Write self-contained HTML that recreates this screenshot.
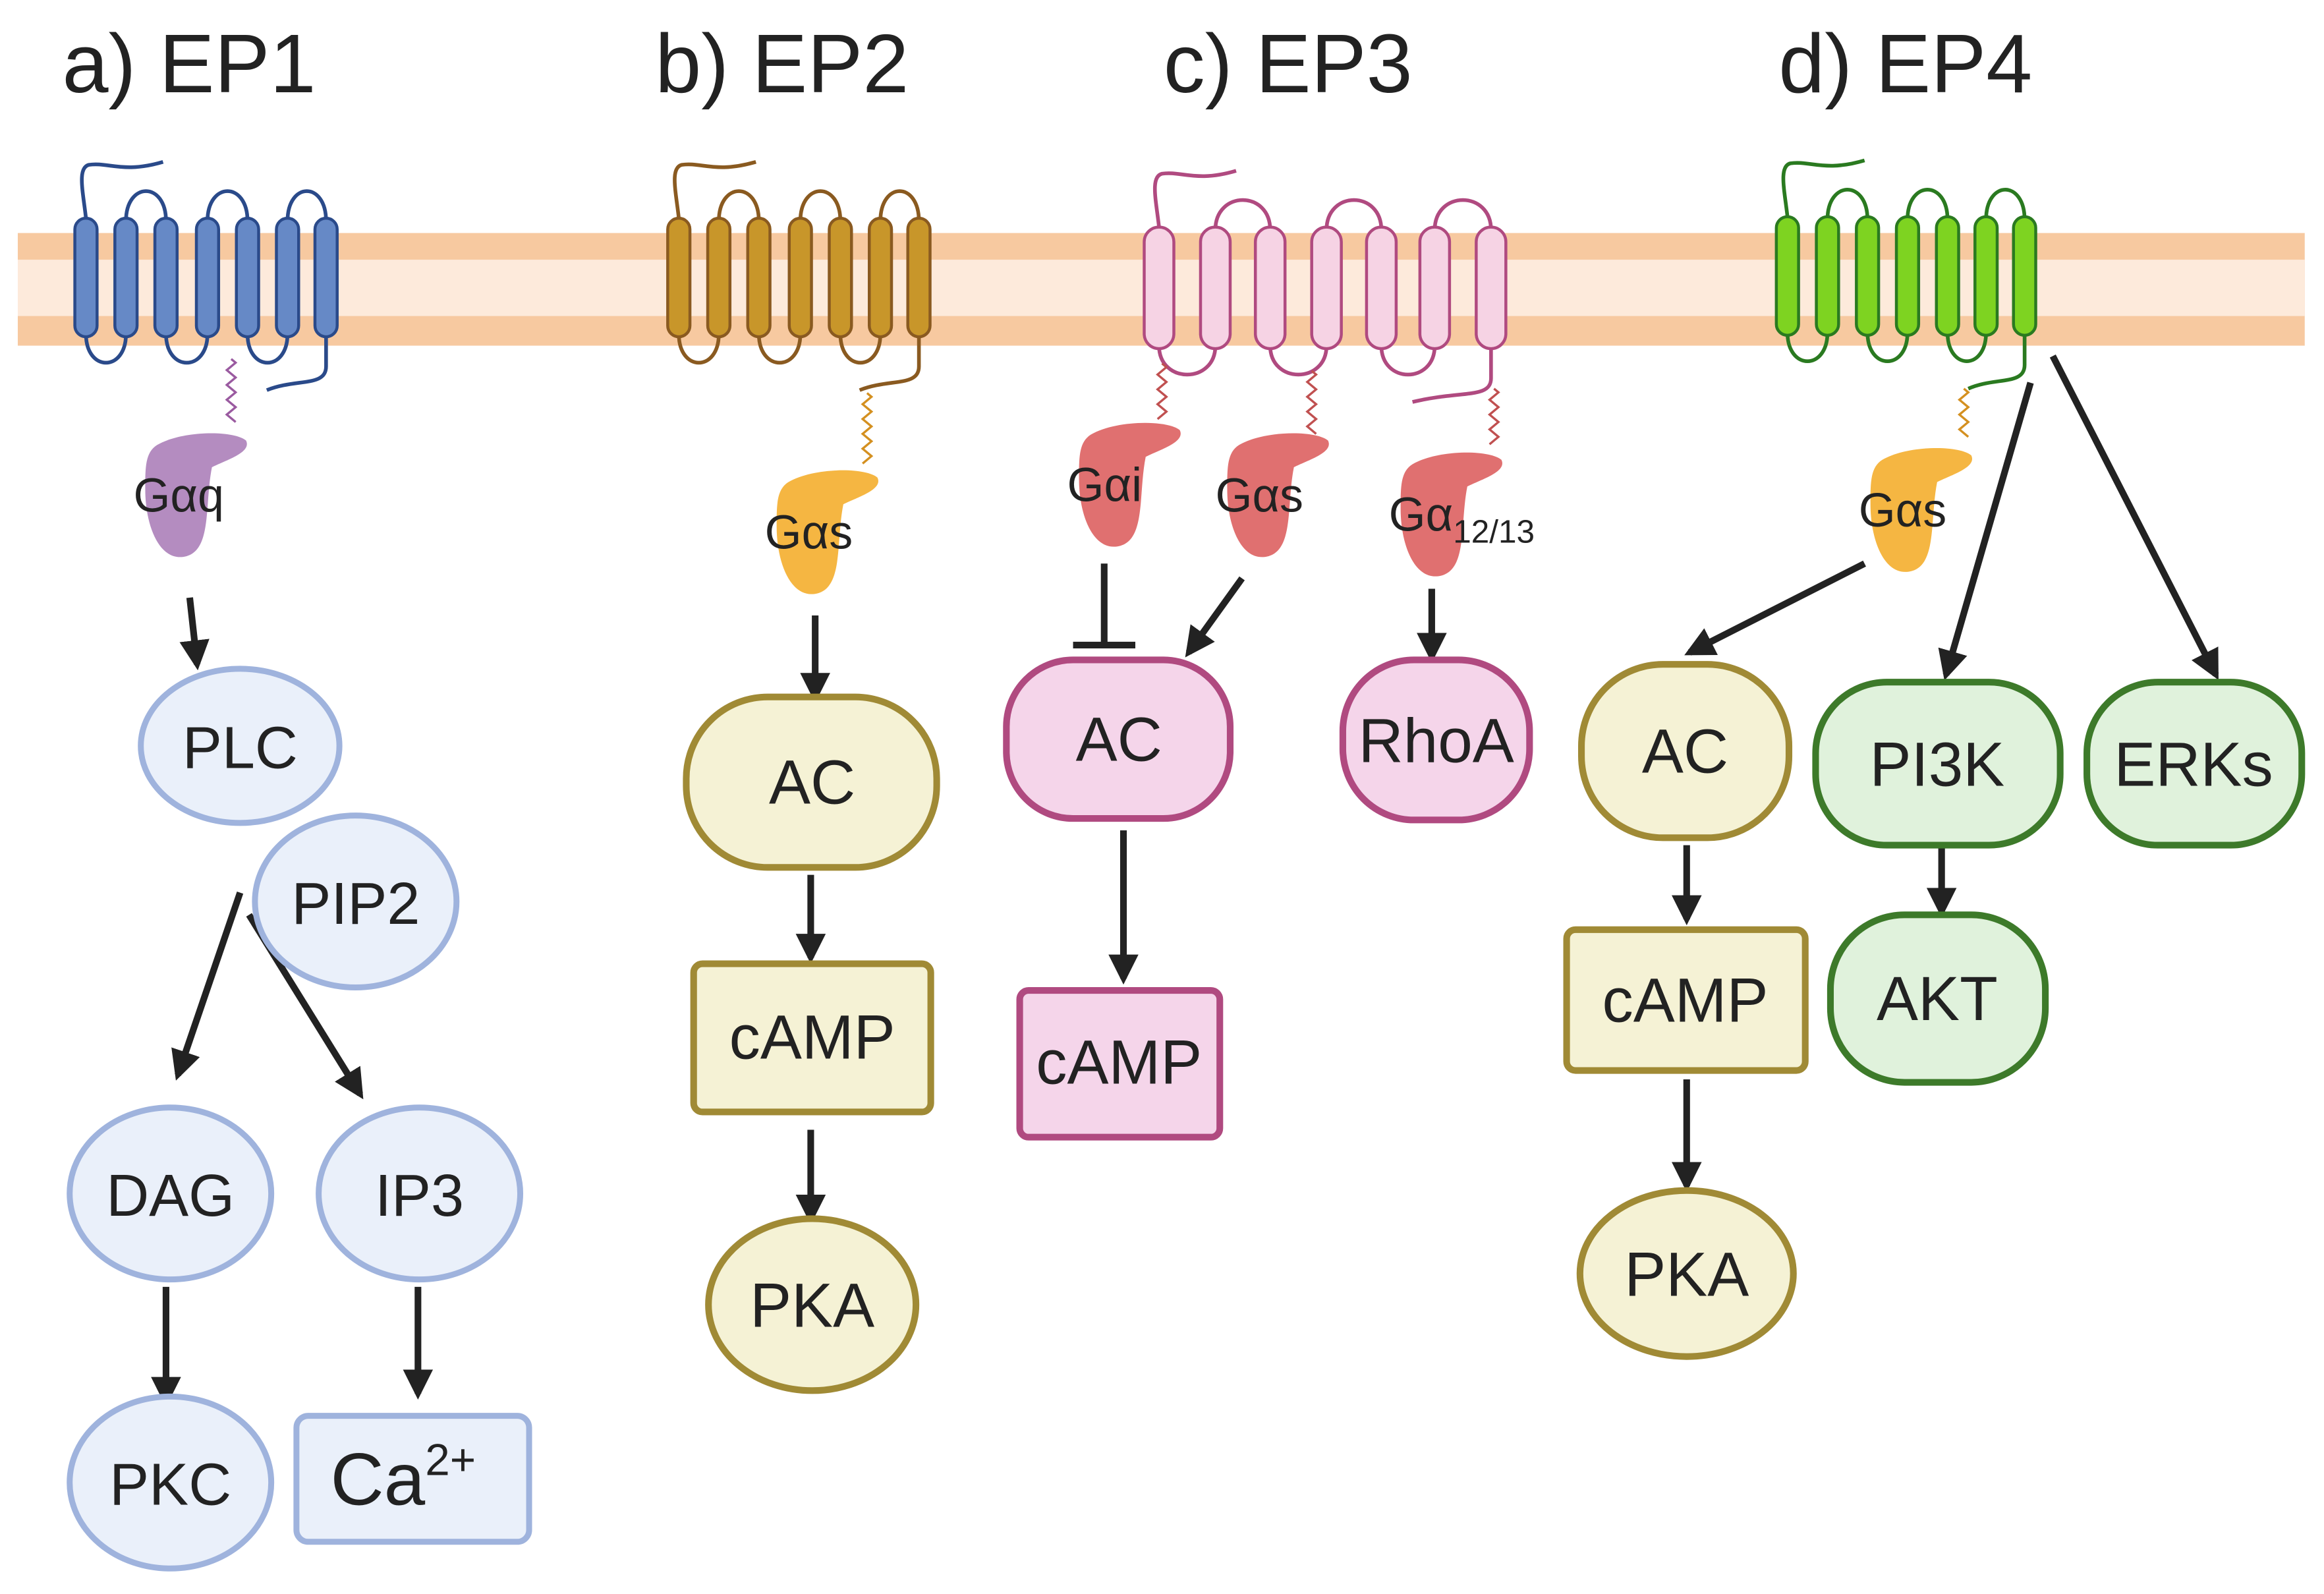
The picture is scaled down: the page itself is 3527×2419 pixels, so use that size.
<!DOCTYPE html>
<html><head><meta charset="utf-8"><style>
html,body{margin:0;padding:0;background:#fff}
svg{display:block}
text{font-family:"Liberation Sans",sans-serif;fill:#222}
</style></head><body>
<svg id="s" width="3527" height="2419" viewBox="0 0 1568 1075" xmlns="http://www.w3.org/2000/svg">
<defs>
<marker id="a" viewBox="0 0 10 10" refX="8" refY="5" markerWidth="4.5" markerHeight="4.5" orient="auto"><path d="M0,0 L10,5 L0,10 z" fill="#222"/></marker>
</defs>
<rect x="12" y="157" width="1543" height="76" fill="#f7c9a0"/>
<rect x="12" y="175" width="1543" height="38" fill="#fdeadb"/>
<g font-size="56" fill="#333">
<text x="42" y="62">a) EP1</text><text x="442" y="62">b) EP2</text><text x="785" y="62">c) EP3</text><text x="1200" y="62">d) EP4</text>
</g>
<g id="rec"></g>
<g stroke="#222" stroke-width="4.5" fill="none" marker-end="url(#a)">
<line x1="128" y1="403" x2="133" y2="448"/>
<line x1="162" y1="602" x2="120" y2="725"/>
<line x1="168" y1="617" x2="243" y2="738"/>
<line x1="112" y1="868" x2="112" y2="945"/>
<line x1="282" y1="868" x2="282" y2="940"/>
<line x1="550" y1="415" x2="550" y2="470"/>
<line x1="547" y1="590" x2="547" y2="646"/>
<line x1="547" y1="762" x2="547" y2="822"/>
<line x1="838" y1="390" x2="802" y2="440"/>
<line x1="966" y1="397" x2="966" y2="443"/>
<line x1="758" y1="560" x2="758" y2="660"/>
<line x1="1258" y1="380" x2="1140" y2="440"/>
<line x1="1370" y1="258" x2="1313" y2="455"/>
<line x1="1385" y1="240" x2="1495" y2="455"/>
<line x1="1138" y1="570" x2="1138" y2="620"/>
<line x1="1138" y1="728" x2="1138" y2="800"/>
<line x1="1310" y1="572" x2="1310" y2="615"/>
</g>
<g stroke="#222" stroke-width="4.5"><line x1="745" y1="380" x2="745" y2="434"/><line x1="724" y1="435" x2="766" y2="435"/></g>
<g fill="#eaf0fa" stroke="#9fb3dd" stroke-width="4">
<ellipse cx="162" cy="503" rx="67" ry="52"/>
<ellipse cx="240" cy="608" rx="68" ry="58"/>
<ellipse cx="115" cy="805" rx="68" ry="58"/>
<ellipse cx="283" cy="805" rx="68" ry="58"/>
<ellipse cx="115" cy="1000" rx="68" ry="58"/>
<rect x="200" y="955" width="157" height="85" rx="8"/>
</g>
<g font-size="40" text-anchor="middle">
<text x="162" y="518">PLC</text><text x="240" y="623">PIP2</text><text x="115" y="820">DAG</text><text x="283" y="820">IP3</text><text x="115" y="1015">PKC</text>
<text x="272" y="1015" font-size="50">Ca<tspan font-size="30" dy="-20">2+</tspan></text>
</g>
<g fill="#f5f2d5" stroke="#a08a35" stroke-width="4.5">
<rect x="463" y="470" width="169" height="115" rx="55"/>
<rect x="468" y="650" width="160" height="100" rx="6"/>
<ellipse cx="548" cy="880" rx="70" ry="58"/>
<rect x="1067" y="448" width="140" height="117" rx="55"/>
<rect x="1057" y="627" width="161" height="95" rx="6"/>
<ellipse cx="1138" cy="859" rx="72" ry="56"/>
</g>
<g fill="#f5d5ea" stroke="#b04a80" stroke-width="4.5">
<rect x="679" y="445" width="151" height="107" rx="45"/>
<rect x="688" y="668" width="135" height="99" rx="6"/>
<rect x="906" y="445" width="126" height="108" rx="48"/>
</g>
<g fill="#e0f2dc" stroke="#3d7a2a" stroke-width="4.5">
<rect x="1225" y="460" width="165" height="110" rx="48"/>
<rect x="1235" y="617" width="145" height="113" rx="50"/>
<rect x="1408" y="460" width="145" height="110" rx="48"/>
</g>
<g font-size="42" text-anchor="middle">
<text x="548" y="542">AC</text><text x="548" y="714">cAMP</text><text x="548" y="895">PKA</text>
<text x="755" y="513">AC</text><text x="755" y="731">cAMP</text><text x="969" y="514">RhoA</text>
<text x="1137" y="521">AC</text><text x="1137" y="689">cAMP</text><text x="1138" y="874">PKA</text>
<text x="1307" y="530">PI3K</text><text x="1307" y="688">AKT</text><text x="1480" y="530">ERKs</text>
</g>
<g id="gp"></g>
</svg>
<script>
var NS="http://www.w3.org/2000/svg",rec=document.getElementById('rec'),gp=document.getElementById('gp');
function el(p,t,a){var e=document.createElementNS(NS,t);for(var k in a)e.setAttribute(k,a[k]);p.appendChild(e);return e;}
function receptor(xs,w,fill,stroke,y1,y2,cterm){
 var d='';
 for(var i=0;i<6;i++){var a=xs[i],b=xs[i+1];
  if(i%2==1){d+='M'+a+','+(y1+2)+' C'+a+','+(y1-25)+' '+b+','+(y1-25)+' '+b+','+(y1+2)+' ';}
  else{d+='M'+a+','+(y2-2)+' C'+a+','+(y2+24)+' '+b+','+(y2+24)+' '+b+','+(y2-2)+' ';}}
 var x0=xs[0],x6=xs[6];
 d+='M'+x0+','+y1+' C'+(x0-2)+','+(y1-18)+' '+(x0-6)+','+(y1-34)+' '+(x0+2)+','+(y1-36)+' C'+(x0+15)+','+(y1-38)+' '+(x0+25)+','+(y1-30)+' '+(x0+52)+','+(y1-38)+' ';
 d+='M'+x6+','+y2+' L'+x6+','+(y2+20)+' C'+x6+','+(y2+34)+' '+(x6-20)+','+(y2+28)+' '+(x6-cterm)+','+(y2+36)+' ';
 el(rec,'path',{d:d,fill:'none',stroke:stroke,'stroke-width':2.5});
 xs.forEach(function(x){el(rec,'rect',{x:x-w/2,y:y1,width:w,height:y2-y1,rx:w/2,fill:fill,stroke:stroke,'stroke-width':2});});
}
receptor([58,85,112,140,167,194,220],15,'#6689c6','#2a4a8a',147,227,40);
receptor([458,485,512,540,567,594,620],15,'#c8962a','#8a5a20',147,227,40);
receptor([782,820,857,895,932,968,1006],20,'#f6d3e4','#b04a80',153,235,53);
receptor([1206,1233,1260,1287,1314,1340,1366],15,'#7ed321','#2a7a20',146,226,38);
function wig(x,y1,y2,c){var d='M'+x+','+y1,s=1;for(var y=y1;y<y2;y+=5){d+=' L'+(x+3*s)+','+(y+2.5);s=-s;}el(gp,'path',{d:d,fill:'none',stroke:c,'stroke-width':1.5});}
function blob(cx,cy,fill,label,sub){
 var d='M'+(cx-22)+','+(cy-35)+' C'+(cx-5)+','+(cy-45)+' '+(cx+30)+','+(cy-45)+' '+(cx+38)+','+(cy-38)+' C'+(cx+42)+','+(cy-30)+' '+(cx+25)+','+(cy-25)+' '+(cx+15)+','+(cy-20)+' C'+(cx+10)+','+(cy+5)+' '+(cx+15)+','+(cy+35)+' '+(cx-2)+','+(cy+40)+' C'+(cx-20)+','+(cy+45)+' '+(cx-30)+','+(cy+20)+' '+(cx-30)+','+(cy-5)+' C'+(cx-30)+','+(cy-20)+' '+(cx-30)+','+(cy-30)+' '+(cx-22)+','+(cy-35)+'z';
 el(gp,'path',{d:d,fill:fill});
 var t=el(gp,'text',{x:cx-38,y:cy+10,'font-size':32});t.textContent=label;
 if(sub){var s=el(gp,'tspan',{'font-size':22,dy:8});s.textContent=sub;t.appendChild(s);}
}
wig(156,242,287,'#9a5aa0');blob(128,335,'#b48cc0','Gαq');
wig(585,265,312,'#d49020');blob(554,360,'#f5b642','Gαs');
wig(784,245,285,'#c05050');blob(758,328,'#e07070','Gαi');
wig(885,250,292,'#c05050');blob(858,335,'#e07070','Gαs');
wig(1008,262,300,'#c05050');blob(975,348,'#e07070','Gα','12/13');
wig(1325,262,297,'#d49020');blob(1292,345,'#f5b642','Gαs');
</script>
</body></html>
